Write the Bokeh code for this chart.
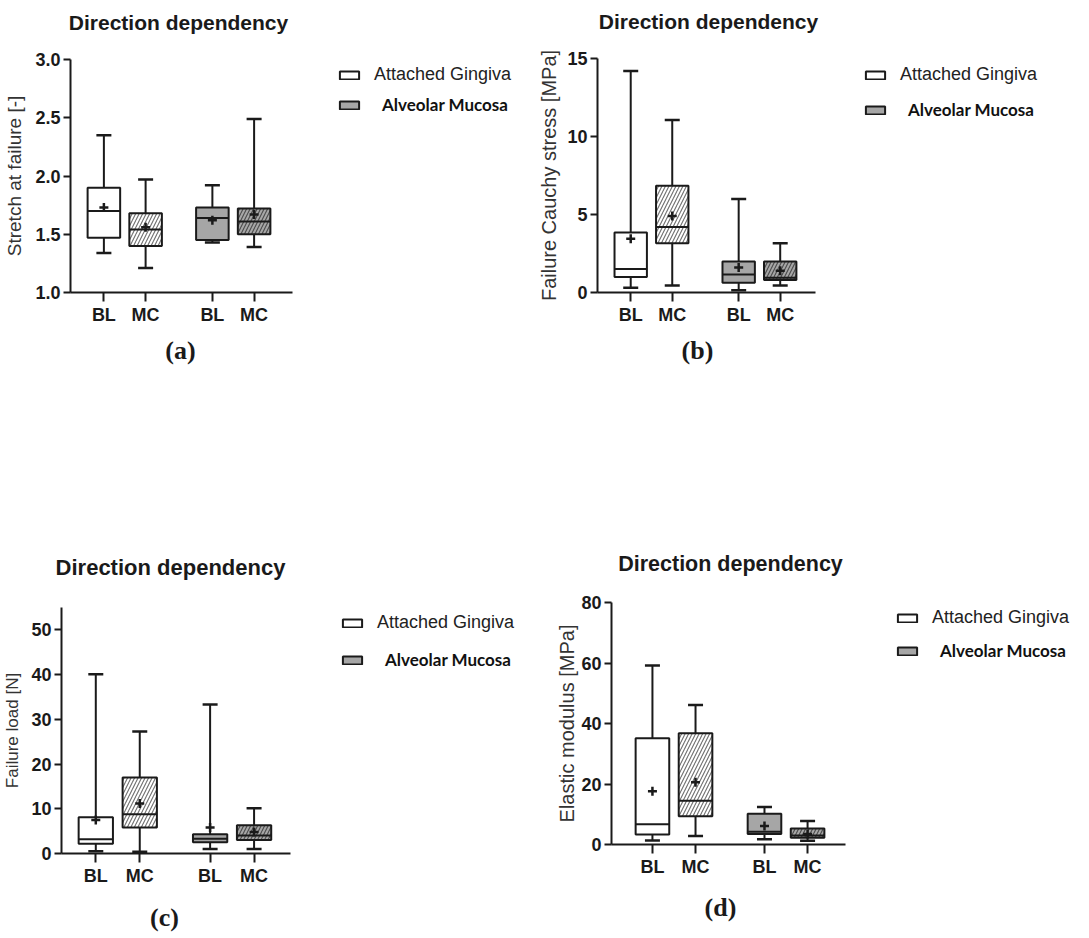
from bokeh.plotting import figure
from bokeh.models import (ColumnDataSource, FixedTicker, Range1d, Legend,
                          LegendItem, Label, NumeralTickFormatter)
from bokeh.layouts import column, row
from bokeh.embed import file_html
from bokeh.resources import INLINE

# ---------------- data ----------------
directions = ["BL", "MC", "BL", "MC"]
tissues = ["Attached Gingiva", "Attached Gingiva", "Alveolar Mucosa", "Alveolar Mucosa"]

stretch_min = [1.34, 1.21, 1.43, 1.39]
stretch_q1 = [1.47, 1.40, 1.45, 1.50]
stretch_median = [1.70, 1.54, 1.64, 1.61]
stretch_q3 = [1.90, 1.68, 1.73, 1.72]
stretch_max = [2.35, 1.97, 1.92, 2.49]
stretch_mean = [1.73, 1.56, 1.62, 1.67]

stress_min = [0.30, 0.45, 0.15, 0.45]
stress_q1 = [1.00, 3.15, 0.62, 0.80]
stress_median = [1.50, 4.20, 1.15, 0.95]
stress_q3 = [3.85, 6.85, 1.98, 1.98]
stress_max = [14.2, 11.05, 6.0, 3.15]
stress_mean = [3.45, 4.90, 1.60, 1.40]

load_min = [0.5, 0.4, 1.0, 1.0]
load_q1 = [2.2, 5.8, 2.5, 3.0]
load_median = [3.2, 8.8, 3.3, 4.0]
load_q3 = [8.1, 17.0, 4.3, 6.3]
load_max = [40.1, 27.3, 33.3, 10.1]
load_mean = [7.5, 11.2, 5.8, 4.8]

modulus_min = [1.3, 2.8, 1.7, 1.2]
modulus_q1 = [3.3, 9.3, 3.5, 2.2]
modulus_median = [6.7, 14.5, 4.2, 3.0]
modulus_q3 = [35.1, 36.8, 10.2, 5.3]
modulus_max = [59.2, 46.1, 12.4, 7.8]
modulus_mean = [17.6, 20.6, 6.1, 3.5]

stretch_ticks = [1.0, 1.5, 2.0, 2.5, 3.0]
stress_ticks = [0, 5, 10, 15]
load_ticks = [0, 10, 20, 30, 40, 50]
modulus_ticks = [0, 20, 40, 60, 80]

title_text = "Direction dependency"
legend_labels = ["Attached Gingiva", "Alveolar Mucosa"]

# ---------------- styling constants ----------------
DIR_POS = {"BL": 0.0, "MC": 1.0}
GROUP_POS = {"Attached Gingiva": 0.0, "Alveolar Mucosa": 2.6}
FILL = {"Attached Gingiva": "white", "Alveolar Mucosa": "#a6a6a6"}
HATCH = {"BL": " ", "MC": "/"}
HATCH_COLOR = {"Attached Gingiva": "#6e6e6e", "Alveolar Mucosa": "#4a4a4a"}
BOX_W = 0.78
INK = "#1a1a1a"
SANS = "Liberation Sans"
ITEM_H = 20
XAXIS_BORDER = 40
TOP_BORDER = 14


def text_fig(width, height, text, cx, cy, font, size, style):
    """A plain strip whose whole frame holds one centred text."""
    f = figure(width=width, height=height, output_backend="svg",
               toolbar_location=None, x_axis_location=None, y_axis_location=None,
               x_range=Range1d(0, 1), y_range=Range1d(0, 1), min_border=0,
               frame_align=False)
    f.outline_line_color = None
    f.xgrid.grid_line_color = None
    f.ygrid.grid_line_color = None
    f.add_layout(Label(x=cx, y=height - cy, x_units="screen", y_units="screen",
                       text=text, text_align="center", text_baseline="middle",
                       text_font=font, text_font_style=style,
                       text_font_size=size, text_color=INK))
    return f


def make_panel(mins, q1s, meds, q3s, maxs, means, ylabel, ylabel_size, y_axis,
               y_ticks, y_fmt, width, height, left, axis_top, axis_bottom, axis_px,
               x_axis, ylabel_standoff, title_c, title_size, legend_pos,
               caption, caption_c):
    xs = [round(DIR_POS[d] + GROUP_POS[t], 3) for d, t in zip(directions, tissues)]
    src = ColumnDataSource(dict(
        x=xs, lo=mins, q1=q1s, med=meds, q3=q3s, hi=maxs, mean=means,
        xl=[x - BOX_W / 2 for x in xs], xr=[x + BOX_W / 2 for x in xs],
        fill=[FILL[t] for t in tissues],
        hatch=[HATCH[d] for d in directions],
        hcol=[HATCH_COLOR[t] for t in tissues],
    ))
    right_border = 2
    frame_w = width - left - right_border
    frame_h = axis_bottom - axis_top
    x0, x1 = x_axis
    x_end = x0 + (x1 - x0) * frame_w / axis_px
    y0, y1 = y_axis

    p = figure(width=width, height=TOP_BORDER + frame_h + XAXIS_BORDER,
               output_backend="svg", toolbar_location=None,
               x_range=Range1d(x0, x_end), y_range=Range1d(y0, y1),
               min_border_left=left, min_border_top=TOP_BORDER,
               min_border_right=right_border, min_border_bottom=XAXIS_BORDER,
               frame_align=False)

    p.segment(x0="x", x1="x", y0="lo", y1="q1", source=src,
              line_color=INK, line_width=2)
    p.segment(x0="x", x1="x", y0="q3", y1="hi", source=src,
              line_color=INK, line_width=2)
    boxes = p.vbar(x="x", width=BOX_W, bottom="q1", top="q3", source=src,
                   fill_color="fill", line_color=INK, line_width=2,
                   hatch_pattern="hatch", hatch_color="hcol",
                   hatch_scale=7, hatch_weight=1.1)
    p.segment(x0="xl", x1="xr", y0="med", y1="med", source=src,
              line_color=INK, line_width=2)
    p.scatter(x="x", y="lo", source=src, marker="dash", size=15,
              line_color=INK, line_width=2.5)
    p.scatter(x="x", y="hi", source=src, marker="dash", size=15,
              line_color=INK, line_width=2.5)
    p.scatter(x="x", y="mean", source=src, marker="cross", size=9,
              line_color=INK, line_width=2.5)

    p.xaxis.ticker = FixedTicker(ticks=xs)
    p.xaxis.major_label_overrides = {x: d for x, d in zip(xs, directions)}
    p.xaxis.bounds = (x0, x1)
    p.yaxis.ticker = FixedTicker(ticks=y_ticks)
    p.yaxis.formatter = NumeralTickFormatter(format=y_fmt)
    for ax in p.axis:
        ax.axis_line_width = 2
        ax.axis_line_color = INK
        ax.major_tick_line_width = 2
        ax.major_tick_line_color = INK
        ax.major_tick_in = 0
        ax.major_tick_out = 7
        ax.minor_tick_line_color = None
        ax.major_label_text_font = SANS
        ax.major_label_text_font_style = "bold"
        ax.major_label_text_font_size = "18px"
        ax.major_label_text_color = INK
        ax.major_label_standoff = 3
    p.xaxis.major_tick_out = 9
    p.yaxis.axis_label = ylabel
    p.yaxis.axis_label_text_font = SANS
    p.yaxis.axis_label_text_font_style = "normal"
    p.yaxis.axis_label_text_font_size = ylabel_size
    p.yaxis.axis_label_text_color = "#333333"
    p.yaxis.axis_label_standoff = ylabel_standoff
    p.xgrid.grid_line_color = None
    p.ygrid.grid_line_color = None
    p.outline_line_color = None

    gx, r1, r2 = legend_pos
    leg1 = Legend(items=[LegendItem(label=legend_labels[0], renderers=[boxes], index=0)],
                  location=(gx - left, axis_bottom - r1 - ITEM_H / 2),
                  padding=0, margin=0, spacing=0,
                  border_line_color=None, background_fill_alpha=0,
                  glyph_width=24, glyph_height=10, label_standoff=13,
                  label_text_font=SANS, label_text_font_size="18px",
                  label_text_color="#222222", label_height=10)
    leg2 = Legend(items=[LegendItem(label=legend_labels[1], renderers=[boxes], index=2)],
                  location=(gx - left, axis_bottom - r2 - ITEM_H / 2),
                  padding=0, margin=0, spacing=0,
                  border_line_color=None, background_fill_alpha=0,
                  glyph_width=24, glyph_height=10, label_standoff=21,
                  label_text_font="Lato", label_text_font_style="bold",
                  label_text_font_size="17px", label_text_color="#111111",
                  label_height=10)
    p.add_layout(leg1)
    p.add_layout(leg2)

    tx, ty = title_c
    top_h = axis_top - TOP_BORDER
    top_strip = text_fig(width, top_h, title_text, tx, ty, SANS, title_size, "bold")
    cap_top = axis_bottom + XAXIS_BORDER
    cx, cy = caption_c
    bottom_strip = text_fig(width, height - cap_top, caption, cx, cy - cap_top,
                            "Liberation Serif", "26px", "bold")
    return column(top_strip, p, bottom_strip)


pa = make_panel(stretch_min, stretch_q1, stretch_median, stretch_q3, stretch_max,
                stretch_mean, "Stretch at failure [-]", "19px", (1.0, 3.0),
                stretch_ticks, "0.0", 520, 470, 70, 59, 292, 222, (-0.8, 4.52), 7,
                (178, 22), "21px", (337, 75, 105), "(a)", (180, 350))
pb = make_panel(stress_min, stress_q1, stress_median, stress_q3, stress_max,
                stress_mean, "Failure Cauchy stress [MPa]", "20px", (0, 15),
                stress_ticks, "0", 569, 470, 77, 58, 292, 218, (-0.8, 4.45), 4,
                (188, 21), "21px", (343, 75, 110), "(b)", (177, 350))
pc = make_panel(load_min, load_q1, load_median, load_q3, load_max,
                load_mean, "Failure load [N]", "17px", (0, 55),
                load_ticks, "0", 545, 468, 56, 137, 383, 231, (-0.78, 4.42), 6,
                (170, 97), "22px", (335, 153, 190), "(c)", (164, 447))
pd = make_panel(modulus_min, modulus_q1, modulus_median, modulus_q3, modulus_max,
                modulus_mean, "Elastic modulus [MPa]", "20px", (0, 80),
                modulus_ticks, "0", 544, 468, 66, 132, 374, 234, (-0.95, 4.48), 0,
                (185, 93), "21.5px", (350, 148, 181), "(d)", (175, 437))

layout = column(row(pa, pb), row(pc, pd))
open("out.html", "w").write(file_html(layout, INLINE))
